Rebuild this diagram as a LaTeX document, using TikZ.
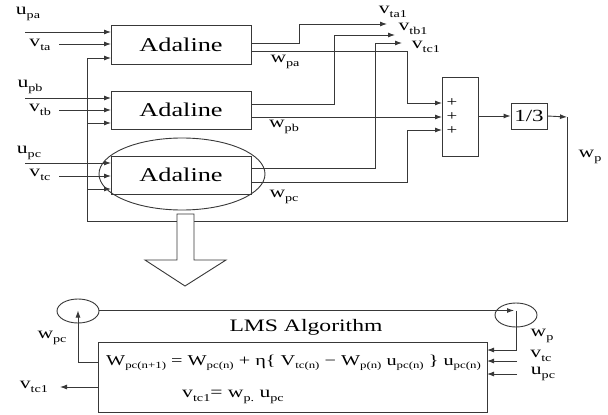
\documentclass[tikz,border=0pt]{standalone}
\usepackage{fontspec}
\setmainfont{Liberation Serif}[FakeStretch=1.35]
\usetikzlibrary{arrows.meta,shapes.geometric}
\newcommand\lsb[1]{\raisebox{-0.45ex}{\fontsize{10.5}{10.5}\selectfont #1}}
\newcommand\lab[2]{{\fontsize{16}{16}\selectfont #1\lsb{#2}}}
\newcommand\esb[1]{\raisebox{-0.45ex}{\fontsize{9.5}{9.5}\selectfont #1}}
\begin{document}
\begin{tikzpicture}[x=1pt,y=-1pt,line width=0.9pt,color=black!78,
  arr/.style={-{Latex[length=7pt,width=5pt]}},
  box/.style={draw,fill=white,inner sep=0pt,anchor=center,text=black},
  lbl/.style={inner sep=0pt,text=black},
  adl/.style={box,minimum width=140pt,font=\fontsize{19.5}{19.5}\selectfont}]
\path[use as bounding box,fill=white] (0,0) rectangle (608,415);
% Adaline blocks
\node[adl,minimum height=39pt] (ad1) at (181,44.5) {Adaline};
\node[adl,minimum height=38pt] (ad2) at (181,110) {Adaline};
\node[adl,minimum height=38pt] (ad3) at (181,175) {Adaline};
\node[draw,ellipse,minimum width=166pt,minimum height=72pt,inner sep=0pt] (ell) at (182,174) {};
% sum and gain
\node[box,minimum width=36pt,minimum height=79pt] (sum) at (460,116.5) {};
\node[lbl,font=\fontsize{14}{14}\selectfont] (pl1) at (452,103) {+};
\node[lbl,font=\fontsize{14}{14}\selectfont] (pl2) at (452,117) {+};
\node[lbl,font=\fontsize{14}{14}\selectfont] (pl3) at (452,131) {+};
\node[box,minimum width=36pt,minimum height=26pt,font=\fontsize{17}{17}\selectfont] (div) at (529,116) {1/3};
% input labels
\node[lbl] (lua) at (28,14) {\lab{u}{pa}};
\node[lbl] (lva) at (40,45) {\lab{v}{ta}};
\node[lbl] (lub) at (30,87) {\lab{u}{pb}};
\node[lbl] (lvb) at (40,110) {\lab{v}{tb}};
\node[lbl] (luc) at (29,153) {\lab{u}{pc}};
\node[lbl] (lvc) at (40,175) {\lab{v}{tc}};
% input coordinates
\coordinate (ua) at (25,32);  \coordinate (uae) at (111,32);
\coordinate (va) at (59,44);  \coordinate (vae) at (111,44);
\coordinate (fa) at (87,58);  \coordinate (fae) at (111,58);
\coordinate (ub) at (25,98);  \coordinate (ube) at (111,98);
\coordinate (vb) at (59,110); \coordinate (vbe) at (111,110);
\coordinate (fb) at (87,123); \coordinate (fbe) at (111,123);
\coordinate (uc) at (25,163); \coordinate (uce) at (111,163);
\coordinate (vc) at (59,176); \coordinate (vce) at (111,176);
\coordinate (fc) at (87,189); \coordinate (fce) at (111,189);
\foreach \s/\e in {ua/uae,va/vae,fa/fae,ub/ube,vb/vbe,fb/fbe,uc/uce,vc/vce,fc/fce}
  \draw[arr] (\s) -- (\e);
% feedback loop
\coordinate (fbot) at (87,221);
\coordinate (fbr) at (567,221);
\coordinate (fbt) at (567,117);
\draw (fa) -- (fbot) -- (fbr) -- (fbt);
\draw[arr] (div.east) -- (fbt);
\node[lbl] (lwp) at (590,157) {\lab{w}{p}};
% outputs
\coordinate (o1a) at (251,43);  \coordinate (t1) at (387,24);
\coordinate (o1b) at (251,51);  \coordinate (s1) at (442,103);
\coordinate (o2a) at (251,104); \coordinate (t2) at (395,35);
\coordinate (o2b) at (251,117); \coordinate (s2) at (442,117);
\coordinate (o3a) at (251,168); \coordinate (t3) at (402,43);
\coordinate (o3b) at (251,182); \coordinate (s3) at (442,130);
\draw[arr] (o1a) -- (299,43) -- (299,24) -- (t1);
\draw[arr] (o1b) -- (407,51) -- (407,103) -- (s1);
\draw[arr] (o2a) -- (334,104) -- (334,35) -- (t2);
\draw[arr] (o2b) -- (s2);
\draw[arr] (o3a) -- (375,168) -- (375,43) -- (t3);
\draw[arr] (o3b) -- (407,182) -- (407,130) -- (s3);
\draw[arr] (sum.east |- div.west) -- (div.west);
\node[lbl] (lta1) at (393,12) {\lab{v}{ta1}};
\node[lbl] (ltb1) at (413,29) {\lab{v}{tb1}};
\node[lbl] (ltc1) at (426,47) {\lab{v}{tc1}};
\node[lbl] (lwpa) at (285,62) {\lab{w}{pa}};
\node[lbl] (lwpb) at (284,127) {\lab{w}{pb}};
\node[lbl] (lwpc) at (284,197) {\lab{w}{pc}};
% big hollow arrow
\draw[fill=white] (177,214) -- (177,260) -- (145,260) -- (185,286) -- (226,260) -- (194,260) -- (194,214) -- cycle;
% LMS part
\node[box,minimum width=389pt,minimum height=70pt] (lms) at (292.5,377) {};
\node[lbl,font=\fontsize{17.5}{17.5}\selectfont] (lmst) at (306,327) {LMS Algorithm};
\node[lbl,font=\fontsize{15}{15}\selectfont] (eq1) at (293.5,363)
  {W\esb{pc(n+1)} = W\esb{pc(n)} + η\{ V\esb{tc(n)} − W\esb{p(n)} u\esb{pc(n)} \} u\esb{pc(n)}};
\node[lbl] (eq2) at (233,397) {\lab{v}{tc1}{\fontsize{16}{16}\selectfont = }\lab{w}{p.}{\fontsize{16}{16}\selectfont\ }\lab{u}{pc}};
\node[draw,ellipse,minimum width=42pt,minimum height=24pt,inner sep=0pt] (cl) at (78,311) {};
\node[draw,ellipse,minimum width=42pt,minimum height=24pt,inner sep=0pt] (cr) at (516,315) {};
\coordinate (wpcs) at (98,362);
\coordinate (wpcc) at (78,362);
\coordinate (wpce) at (78,310.5);
\draw[arr] (wpcs) -- (wpcc) -- (wpce);
\coordinate (tls) at (99,310.5);
\coordinate (tle) at (514,310.5);
\draw[arr] (tls) -- (tle);
\coordinate (wps) at (516,310.5);
\coordinate (wpc) at (516,350);
\coordinate (wpe) at (487,350);
\draw[arr] (wps) -- (wpc) -- (wpe);
\coordinate (vtcs) at (517,361); \coordinate (vtce) at (487,361);
\coordinate (upcs) at (517,374); \coordinate (upce) at (487,374);
\draw[arr] (vtcs) -- (vtce);
\draw[arr] (upcs) -- (upce);
\coordinate (vo) at (98,387); \coordinate (voe) at (60,387);
\draw[arr] (vo) -- (voe);
\node[lbl] (lwp2) at (542,336) {\lab{w}{p}};
\node[lbl] (lvtc2) at (541,356) {\lab{v}{tc}};
\node[lbl] (lupc2) at (543,374) {\lab{u}{pc}};
\node[lbl] (lvtc1) at (34,387) {\lab{v}{tc1}};
\node[lbl] (lwpc2) at (52,338) {\lab{w}{pc}};
\end{tikzpicture}
\end{document}
